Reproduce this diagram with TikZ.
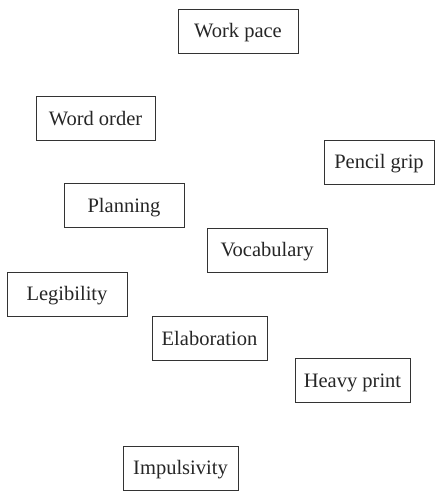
\documentclass[tikz,border=0pt]{standalone}
\usepackage{fontspec}
\setmainfont{Liberation Serif}
\begin{document}
\begin{tikzpicture}[x=1pt,y=-1pt,
  box/.style={draw=black!80, line width=0.9pt, inner sep=0pt, minimum height=44pt,
    font=\fontsize{20.5}{24}\selectfont, text=black!85, anchor=center,
    text height=13.5pt, text depth=0pt}]
\useasboundingbox (0,0) rectangle (435,491);
\node[box, minimum width=120pt] (wp) at (238,31) {Work pace};
\node[box, minimum width=119pt] (wo) at (95.5,118.5) {Word order};
\node[box, minimum width=110pt] (pg) at (379,162) {Pencil grip};
\node[box, minimum width=120pt] (pl) at (124,205.5) {Planning};
\node[box, minimum width=120pt] (vo) at (267,250) {Vocabulary};
\node[box, minimum width=120pt] (le) at (67,294) {Legibility};
\node[box, minimum width=115pt] (el) at (209.5,338.5) {Elaboration};
\node[box, minimum width=115pt] (hp) at (352.5,380.5) {Heavy print};
\node[box, minimum width=115pt] (im) at (180.5,468) {Impulsivity};
\end{tikzpicture}
\end{document}
